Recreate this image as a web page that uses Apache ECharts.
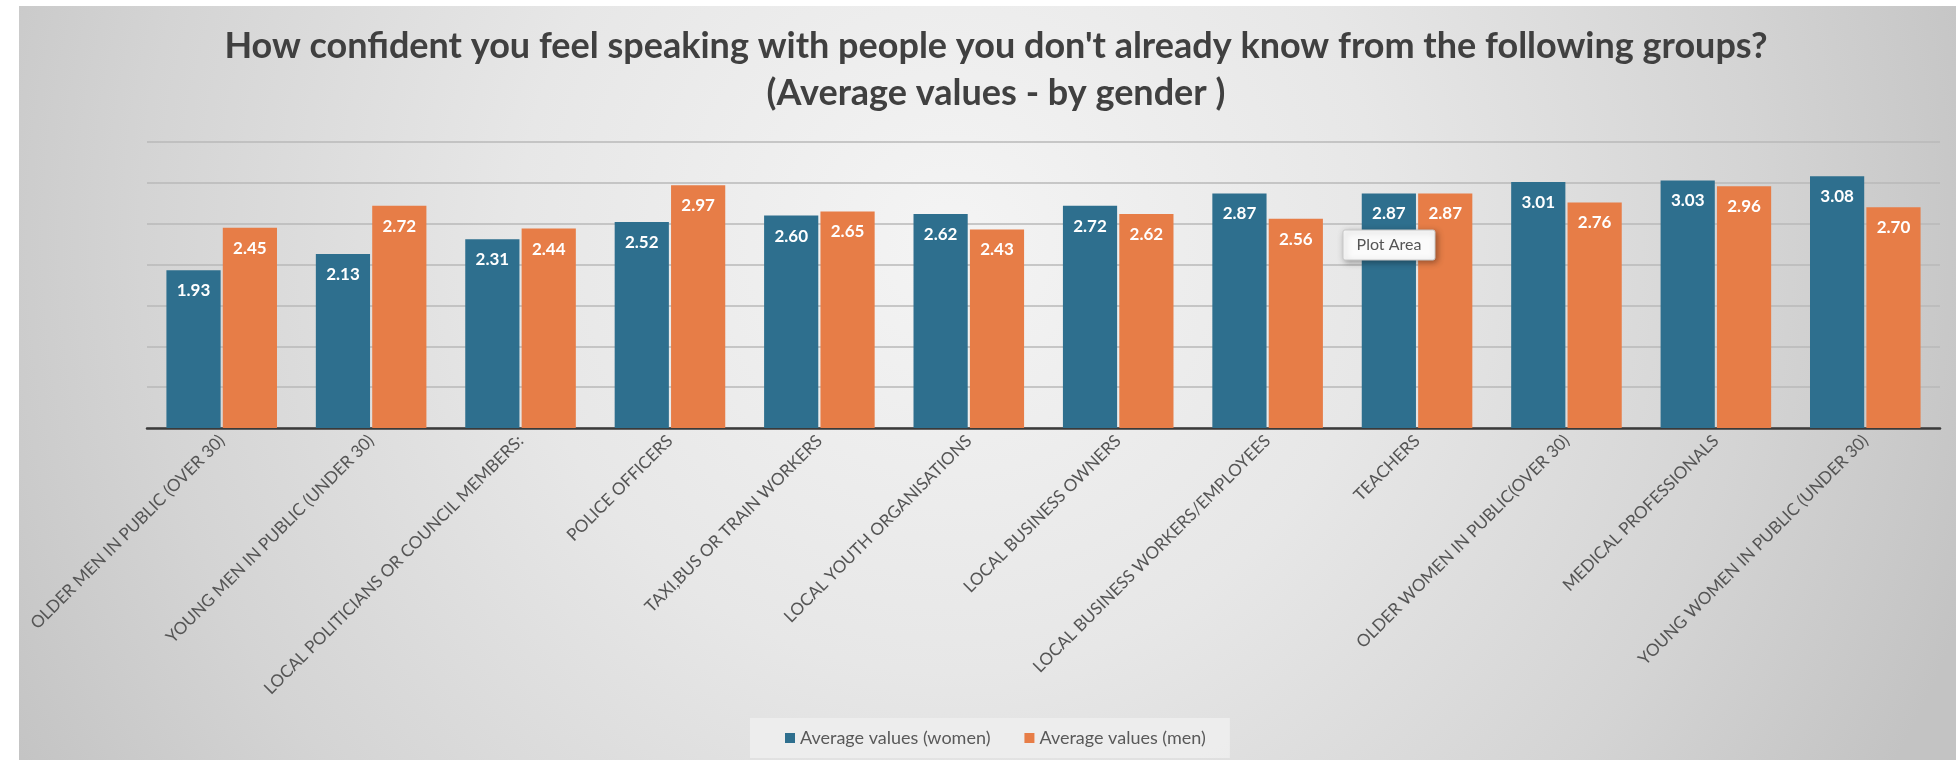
<!DOCTYPE html>
<html>
<head>
<meta charset="utf-8">
<title>Confidence speaking with people by group</title>
<script src="https://cdn.jsdelivr.net/npm/echarts@6/dist/echarts.min.js"></script>
<style>
  html, body { margin: 0; padding: 0; background: #ffffff; }
  #chart { width: 1956px; height: 760px; }
</style>
</head>
<body>
<div id="chart"></div>
<script>
// Groups asked about (x axis)
const categories = [
  'OLDER MEN IN PUBLIC (OVER 30)',
  'YOUNG MEN IN PUBLIC (UNDER 30)',
  'LOCAL POLITICIANS OR COUNCIL MEMBERS:',
  'POLICE OFFICERS',
  'TAXI,BUS OR TRAIN WORKERS',
  'LOCAL YOUTH ORGANISATIONS',
  'LOCAL BUSINESS OWNERS',
  'LOCAL BUSINESS WORKERS/EMPLOYEES',
  'TEACHERS',
  'OLDER WOMEN IN PUBLIC(OVER 30)',
  'MEDICAL PROFESSIONALS',
  'YOUNG WOMEN IN PUBLIC (UNDER 30)'
];

// Average confidence scores
const womenValues = [1.93, 2.13, 2.31, 2.52, 2.60, 2.62, 2.72, 2.87, 2.87, 3.01, 3.03, 3.08];
const menValues   = [2.45, 2.72, 2.44, 2.97, 2.65, 2.43, 2.62, 2.56, 2.87, 2.76, 2.96, 2.70];

const seriesNames = ['Average values (women)', 'Average values (men)'];
const titleLines = [
  "How confident you feel speaking with people you don't already know from the following groups?",
  '(Average values - by gender )'
];

const FONT = 'Lato, "Open Sans", sans-serif';
const BLUE = '#2e6f8e';
const ORANGE = '#e77d47';

const chart = echarts.init(document.getElementById('chart'), null, { renderer: 'canvas' });

const barLabel = {
  show: true,
  position: 'insideTop',
  distance: 12,
  color: '#ffffff',
  fontFamily: FONT,
  fontWeight: 'bold',
  fontSize: 17,
  formatter: p => p.value.toFixed(2)
};

chart.setOption({
  backgroundColor: '#ffffff',
  animation: false,
  graphic: [
    {
      // soft grey panel behind the whole chart
      type: 'rect',
      z: -10,
      silent: true,
      shape: { x: 19, y: 6, width: 1937, height: 754 },
      style: {
        fill: {
          type: 'radial', x: 950, y: 240, r: 1080, global: true,
          colorStops: [
            { offset: 0, color: '#f4f4f4' },
            { offset: 0.4, color: '#e7e7e7' },
            { offset: 0.75, color: '#d4d4d4' },
            { offset: 1, color: '#c3c3c3' }
          ]
        }
      }
    },
    {
      // hover hint box
      type: 'rect',
      z: 100,
      silent: true,
      shape: { x: 1343, y: 230, width: 92, height: 30, r: 2 },
      style: {
        fill: '#fbfbfb',
        stroke: '#c8c8c8',
        lineWidth: 1,
        shadowBlur: 6,
        shadowOffsetX: 2,
        shadowOffsetY: 2,
        shadowColor: 'rgba(0,0,0,0.35)'
      }
    },
    {
      type: 'text',
      z: 101,
      silent: true,
      x: 1389,
      y: 245,
      style: {
        text: 'Plot Area',
        fill: '#555555',
        fontFamily: FONT,
        fontSize: 16,
        align: 'center',
        verticalAlign: 'middle'
      }
    }
  ],
  title: {
    text: titleLines.join('\n'),
    left: 991,
    top: 18,
    textAlign: 'center',
    textStyle: {
      fontFamily: FONT,
      fontWeight: 'bold',
      fontSize: 36,
      lineHeight: 47,
      color: '#404040'
    }
  },
  legend: {
    data: seriesNames,
    left: 750,
    top: 718,
    padding: [11, 24, 11, 35],
    itemGap: 34,
    itemWidth: 10,
    itemHeight: 10,
    icon: 'rect',
    backgroundColor: 'rgba(238,238,238,0.85)',
    textStyle: { fontFamily: FONT, fontSize: 18, color: '#595959' }
  },
  grid: {
    left: 147,
    right: 16,
    top: 142,
    bottom: 332,
    containLabel: false
  },
  xAxis: {
    type: 'category',
    data: categories,
    axisLine: { lineStyle: { color: '#3a3a3a', width: 2.5 } },
    axisTick: { show: false },
    axisLabel: {
      interval: 0,
      rotate: 45,
      margin: 10,
      color: '#555555',
      fontFamily: FONT,
      fontSize: 17
    }
  },
  yAxis: {
    type: 'value',
    min: 0,
    max: 3.5,
    interval: 0.5,
    axisLabel: { show: false },
    axisLine: { show: false },
    axisTick: { show: false },
    splitLine: { lineStyle: { color: '#b9b9b9', width: 1.5 } }
  },
  series: [
    {
      name: seriesNames[0],
      type: 'bar',
      data: womenValues,
      barGap: '4%',
      barCategoryGap: '26%',
      itemStyle: { color: BLUE },
      label: barLabel
    },
    {
      name: seriesNames[1],
      type: 'bar',
      data: menValues,
      itemStyle: { color: ORANGE },
      label: barLabel
    }
  ]
});
</script>
</body>
</html>
